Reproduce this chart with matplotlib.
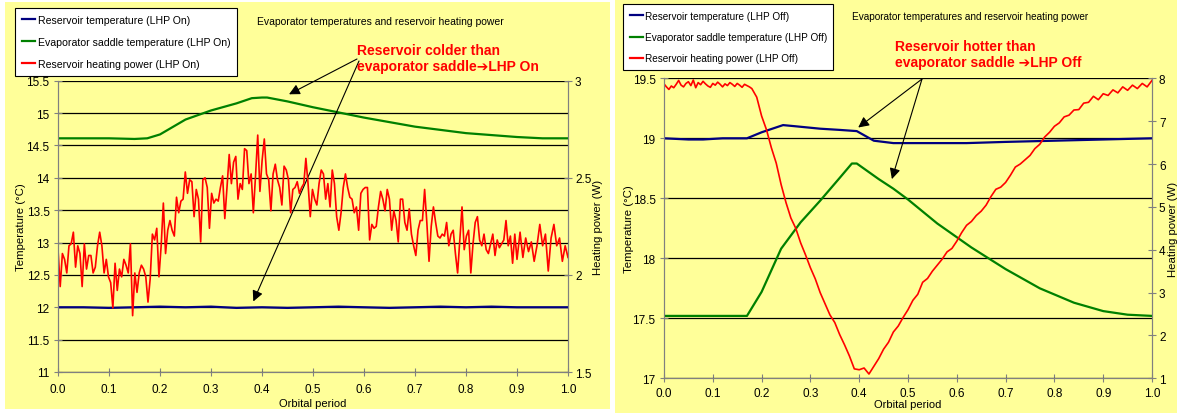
import numpy as np
import matplotlib
matplotlib.use("Agg")
import matplotlib.pyplot as plt
from matplotlib.patches import Rectangle
from matplotlib.lines import Line2D
from matplotlib.ticker import FormatStrFormatter, MultipleLocator

plt.rcParams['font.family'] = ['Liberation Sans', 'DejaVu Sans']

# ---- LHP On (left chart) ----
t_green_on = [0.0, 0.05, 0.10, 0.15, 0.175, 0.20, 0.25, 0.30, 0.35, 0.38, 0.40, 0.41, 0.45,
              0.50, 0.55, 0.60, 0.65, 0.70, 0.75, 0.80, 0.85, 0.90, 0.95, 1.0]
green_on = [14.61, 14.61, 14.61, 14.60, 14.61, 14.67, 14.90, 15.04, 15.15, 15.23, 15.24, 15.24, 15.18,
            15.09, 15.01, 14.93, 14.86, 14.79, 14.74, 14.69, 14.66, 14.63, 14.61, 14.61]

blue_on = [12.00, 12.00, 11.99, 12.00, 12.01, 12.00, 12.01, 11.99, 12.00, 11.99, 12.00,
           12.01, 12.00, 11.99, 12.00, 12.01, 12.00, 12.01, 12.00, 12.00, 12.00]

red_on_a = [2.13, 1.94, 2.11, 2.08, 2.01, 2.15, 2.16, 2.22, 2.04, 2.15, 2.11, 1.94, 2.16, 2.03, 2.10,
            2.10, 2.01, 2.04, 2.15, 2.22, 2.15, 2.01, 2.08, 1.99, 1.96, 1.83, 2.06, 1.92, 2.03, 1.99,
            2.08, 2.05, 2.01, 2.16, 1.79, 2.01, 1.91, 2.01, 2.05, 2.03, 1.99, 1.86, 1.98, 2.21, 2.18,
            2.24, 1.99, 2.15, 2.37, 2.11, 2.23, 2.28, 2.23, 2.20, 2.40, 2.32, 2.38, 2.39, 2.53, 2.42,
            2.49, 2.48, 2.30, 2.44, 2.39, 2.17, 2.49, 2.50, 2.45, 2.24, 2.42, 2.37, 2.39, 2.38, 2.45,
            2.51, 2.29, 2.45, 2.62, 2.47, 2.58, 2.61, 2.39, 2.47, 2.44, 2.65, 2.64, 2.47, 2.52, 2.32,
            2.51, 2.72, 2.43, 2.59, 2.70, 2.52, 2.49, 2.33, 2.52, 2.57, 2.49, 2.45, 2.36, 2.56, 2.54,
            2.49, 2.32, 2.44, 2.45, 2.48, 2.42, 2.45, 2.47]
red_on_b = [2.60, 2.47, 2.30, 2.44, 2.39, 2.36, 2.47, 2.54, 2.52, 2.39, 2.47, 2.35, 2.54, 2.47, 2.30,
            2.23, 2.32, 2.45, 2.52, 2.45, 2.40, 2.39, 2.32, 2.35, 2.23, 2.42, 2.44, 2.45, 2.45, 2.18,
            2.26, 2.24, 2.25, 2.35, 2.43, 2.39, 2.33, 2.44, 2.39, 2.23, 2.33, 2.28, 2.17, 2.39, 2.39,
            2.27, 2.23, 2.34, 2.21, 2.15, 2.10, 2.23, 2.28, 2.28, 2.44, 2.27, 2.07, 2.25, 2.35, 2.27,
            2.20, 2.19, 2.21, 2.20, 2.27, 2.15, 2.21, 2.23, 2.11, 2.01, 2.18, 2.35, 2.13, 2.20, 2.23,
            2.01, 2.16, 2.27, 2.30, 2.18, 2.15, 2.21, 2.13, 2.11, 2.16, 2.21, 2.10, 2.18, 2.14, 2.16,
            2.18, 2.28, 2.15, 2.20, 2.06, 2.21, 2.08]
red_on_c = [2.22, 2.09, 2.19, 2.12, 2.17, 2.07, 2.15, 2.26, 2.15, 2.21, 2.02, 2.19, 2.26, 2.15,
            2.19, 2.07, 2.15, 2.09]

# ---- LHP Off (right chart) ----
t_green_off = [0.0, 0.17, 0.20, 0.24, 0.28, 0.32, 0.36, 0.385, 0.395, 0.44, 0.47, 0.50, 0.56,
               0.63, 0.70, 0.77, 0.84, 0.90, 0.95, 1.0]
green_off = [17.52, 17.52, 17.72, 18.08, 18.30, 18.48, 18.67, 18.79, 18.79, 18.66, 18.58, 18.49,
             18.29, 18.09, 17.91, 17.75, 17.63, 17.56, 17.53, 17.52]

t_blue_off = [0.0, 0.05, 0.08, 0.12, 0.17, 0.20, 0.244, 0.27, 0.32, 0.36, 0.395, 0.43, 0.47,
              0.55, 0.62, 0.70, 0.80, 0.90, 1.0]
blue_off = [19.00, 18.99, 18.99, 19.00, 19.00, 19.05, 19.11, 19.10, 19.08, 19.07, 19.06, 18.98,
            18.96, 18.96, 18.96, 18.97, 18.98, 18.99, 19.00]

red_off_a = [7.87, 7.80, 7.74, 7.82, 7.78, 7.86, 7.95, 7.84, 7.80, 7.88, 7.92, 7.83, 7.96, 7.78,
             7.90, 7.85, 7.93, 7.87, 7.82, 7.79, 7.88, 7.84, 7.91, 7.86, 7.80, 7.87, 7.83, 7.90,
             7.86, 7.81, 7.88, 7.84, 7.79, 7.86, 7.83, 7.80, 7.76]
red_off_b = [7.56, 7.12, 6.80, 6.38, 6.02, 5.52, 5.10, 4.74, 4.50, 4.16, 3.88, 3.58, 3.32, 3.00,
             2.74, 2.48, 2.30, 2.02, 1.78, 1.52, 1.22, 1.20, 1.24, 1.10, 1.28, 1.46, 1.68, 1.84,
             2.08, 2.22, 2.42, 2.60, 2.82, 2.96, 3.24, 3.33, 3.50, 3.64, 3.78, 3.95, 4.03, 4.20,
             4.40, 4.57, 4.66, 4.80, 4.90, 5.04, 5.24, 5.41, 5.46, 5.57, 5.74, 5.93, 6.00, 6.10,
             6.20, 6.36, 6.46, 6.63, 6.74, 6.88, 6.96, 7.10, 7.14, 7.26, 7.27, 7.42, 7.44, 7.58,
             7.50, 7.64, 7.60, 7.73, 7.66, 7.80, 7.72, 7.84, 7.76, 7.88, 7.80, 7.95]

t_blue_on = np.linspace(0, 1, len(blue_on))
t_red_on = np.concatenate([np.linspace(0, 0.482, len(red_on_a)),
                           np.linspace(0.486, 0.900, len(red_on_b)),
                           np.linspace(0.906, 1.0, len(red_on_c))])
red_on = red_on_a + red_on_b + red_on_c
t_red_off = np.concatenate([np.linspace(0, 0.18, len(red_off_a)),
                            np.linspace(0.19, 1.0, len(red_off_b))])
red_off = red_off_a + red_off_b

NAVY, GREEN, RED = '#000080', '#008000', '#FF0000'
YEL = '#FFFF99'
W, H = 1177, 414

fig = plt.figure(figsize=(W / 100, H / 100), dpi=100, facecolor='white')
fig.patches.append(Rectangle((5 / W, 4 / H), 605 / W, 407 / H, transform=fig.transFigure,
                             facecolor=YEL, edgecolor='none', zorder=-10))
fig.patches.append(Rectangle((615 / W, 0), 562 / W, 1, transform=fig.transFigure,
                             facecolor=YEL, edgecolor='none', zorder=-10))


def px(x, y):
    return (x / W, 1 - y / H)


def setup(ax, ax2, ylim, ystep, y2lim, y2step, fmt2, xpad):
    ax.set_facecolor(YEL)
    ax.patch.set_alpha(0)
    ax.set_xlim(0, 1)
    ax.set_ylim(*ylim)
    ax2.set_ylim(*y2lim)
    ax.xaxis.set_major_locator(MultipleLocator(0.1))
    ax.xaxis.set_major_formatter(FormatStrFormatter('%.1f'))
    ax.yaxis.set_major_locator(MultipleLocator(ystep))
    ax.yaxis.set_major_formatter(FormatStrFormatter('%g'))
    ax2.yaxis.set_major_locator(MultipleLocator(y2step))
    ax2.yaxis.set_major_formatter(FormatStrFormatter(fmt2))
    ax.yaxis.grid(True, color='black', lw=0.9)
    ax.set_axisbelow(True)
    for a in (ax, ax2):
        for s in a.spines.values():
            s.set_color('#808080')
        a.spines['top'].set_visible(False)
        a.tick_params(direction='inout', length=6, color='#808080', labelsize=8.5,
                      width=0.8)
    ax.tick_params(axis='y', pad=3)
    ax.tick_params(axis='x', pad=xpad)
    ax2.tick_params(axis='y', pad=2)
    ax.set_xlabel('Orbital period', fontsize=8, labelpad=2)
    ax.set_ylabel('Temperature (°C)', fontsize=8.2)
    ax2.set_ylabel('Heating power (W)', fontsize=8.2)


def label_x(ax, xpix):
    # position of a y label in axes fraction from a pixel column
    x0 = ax.get_position().x0 * W
    w = ax.get_position().width * W
    return (xpix - x0) / w


# left chart
axL = fig.add_axes([58 / W, 1 - 373 / H, 510 / W, 291.3 / H])
axL2 = axL.twinx()
setup(axL, axL2, (11, 15.5), 0.5, (1.5, 3), 0.5, '%g', 5)
axL.plot(t_blue_on, blue_on, color=NAVY, lw=1.6, zorder=3)
axL.plot(t_green_on, green_on, color=GREEN, lw=1.6, zorder=3)
axL2.plot(t_red_on, red_on, color=RED, lw=1.2)
axL.yaxis.set_label_coords(label_x(axL, 26), 0.5)
axL2.yaxis.set_label_coords(label_x(axL, 593), 0.5)

# right chart
axR = fig.add_axes([664 / W, 1 - 379.3 / H, 488 / W, 300 / H])
axR2 = axR.twinx()
setup(axR, axR2, (17, 19.5), 0.5, (1, 8), 1, '%d', 3.5)
axR.plot(t_blue_off, blue_off, color=NAVY, lw=1.6, zorder=3)
axR.plot(t_green_off, green_off, color=GREEN, lw=1.6, zorder=3)
axR2.plot(t_red_off, red_off, color=RED, lw=1.2)
axR.yaxis.set_label_coords(label_x(axR, 634), 0.5)
axR2.yaxis.set_label_coords(label_x(axR, 1168), 0.5)
axR.xaxis.labelpad = 0

# legends
for tag, anchor, fs in (('On', px(15, 9), 7.55), ('Off', px(623, 5), 7.2)):
    handles = [Line2D([], [], color=NAVY, lw=1.6),
               Line2D([], [], color=GREEN, lw=1.6),
               Line2D([], [], color=RED, lw=1.6)]
    labels = ['Reservoir temperature (LHP %s)' % tag,
              'Evaporator saddle temperature (LHP %s)' % tag,
              'Reservoir heating power (LHP %s)' % tag]
    leg = fig.legend(handles, labels, loc='upper left', bbox_to_anchor=anchor,
                     fontsize=fs, frameon=True, fancybox=False, edgecolor='black',
                     framealpha=1, handlelength=1.3, handletextpad=0.2,
                     labelspacing=1.15, borderpad=0.65, borderaxespad=0)
    leg.get_frame().set_linewidth(0.8)

fig.text(*px(257, 22), 'Evaporator temperatures and reservoir heating power',
         fontsize=7.5, va='center', ha='left')
fig.text(*px(852, 17), 'Evaporator temperatures and reservoir heating power',
         fontsize=7.2, va='center', ha='left')

fig.text(*px(357, 59), 'Reservoir colder than\nevaporator saddle\u2794LHP On',
         color=RED, fontsize=10, fontweight='bold', va='center', ha='left',
         linespacing=1.15)
fig.text(*px(895, 55), 'Reservoir hotter than\nevaporator saddle \u2794LHP Off',
         color=RED, fontsize=10, fontweight='bold', va='center', ha='left',
         linespacing=1.15)

arrow = dict(arrowstyle='-|>', color='black', lw=0.8, mutation_scale=16, shrinkA=0, shrinkB=0)
axL.annotate('', xy=(0.453, 15.29), xytext=px(357, 60), textcoords='figure fraction',
             arrowprops=arrow, annotation_clip=False)
axL.annotate('', xy=(0.383, 12.09), xytext=px(359, 62), textcoords='figure fraction',
             arrowprops=arrow, annotation_clip=False)
axR.annotate('', xy=(0.398, 19.09), xytext=px(922, 80), textcoords='figure fraction',
             arrowprops=arrow, annotation_clip=False)
axR.annotate('', xy=(0.467, 18.66), xytext=px(922, 80), textcoords='figure fraction',
             arrowprops=arrow, annotation_clip=False)

fig.savefig('out.png', dpi=100, facecolor='white')
